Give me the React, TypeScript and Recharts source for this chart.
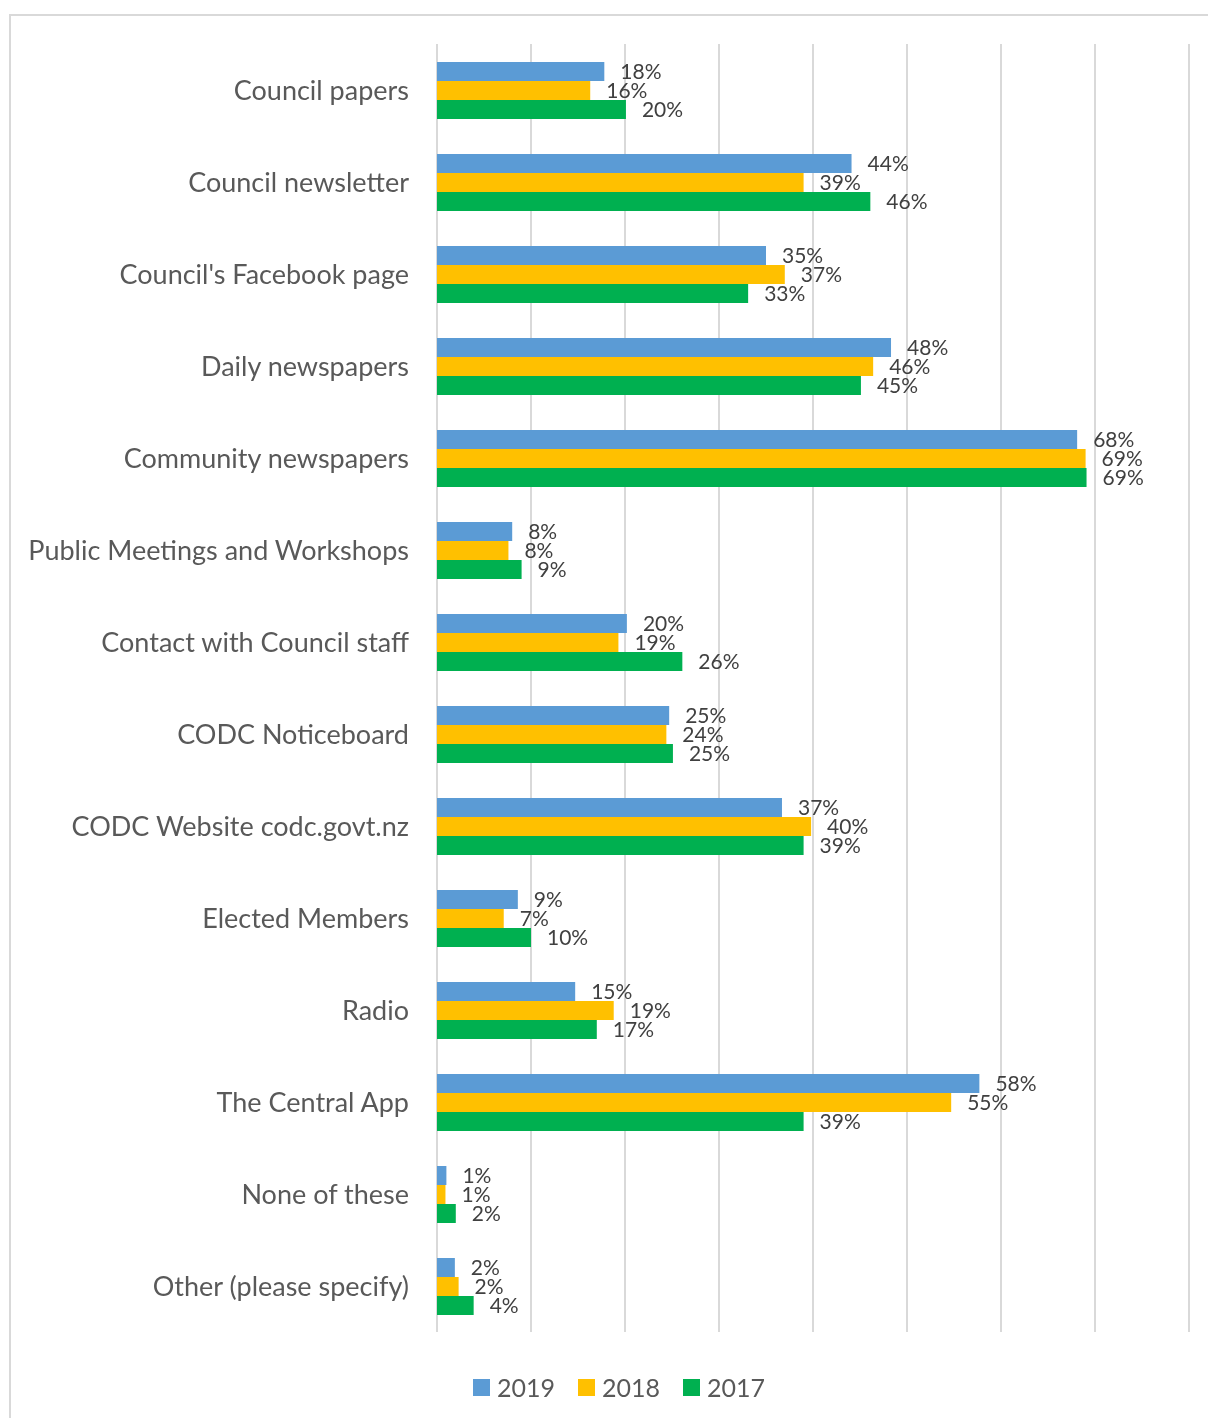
import React from 'react';
import { BarChart, Bar, XAxis, YAxis, CartesianGrid, Legend, LabelList } from 'recharts';

const categories = [
  'Council papers',
  'Council newsletter',
  "Council's Facebook page",
  'Daily newspapers',
  'Community newspapers',
  'Public Meetings and Workshops',
  'Contact with Council staff',
  'CODC Noticeboard',
  'CODC Website codc.govt.nz',
  'Elected Members',
  'Radio',
  'The Central App',
  'None of these',
  'Other (please specify)',
];

const values2019 = [17.8, 44.1, 35.0, 48.3, 68.1, 8.0, 20.2, 24.7, 36.7, 8.6, 14.7, 57.7, 1.0, 1.9];
const values2018 = [16.3, 39.0, 37.0, 46.4, 69.0, 7.6, 19.3, 24.4, 39.8, 7.1, 18.8, 54.7, 0.9, 2.3];
const values2017 = [20.1, 46.1, 33.1, 45.1, 69.1, 9.0, 26.1, 25.1, 39.0, 10.0, 17.0, 39.0, 2.0, 3.9];

const seriesNames = ['2019', '2018', '2017'];
const seriesColors = ['#5B9BD5', '#FFC000', '#00B050'];
const xTicks = [0, 10, 20, 30, 40, 50, 60, 70, 80];

const data = categories.map((name, i) => ({
  name,
  y2019: values2019[i],
  y2018: values2018[i],
  y2017: values2017[i],
}));

const seriesKeys = ['y2019', 'y2018', 'y2017'];

const FONT = 'Lato, "Open Sans", sans-serif';

const fmt = (v: any) => `${Math.round(Number(v))}%`;

const renderLegend = (props: any) => {
  const payload = props.payload || [];
  const ordered = seriesNames
    .map((n) => payload.find((p: any) => p.value === n))
    .filter(Boolean);
  return (
    <div style={{ paddingTop: 40, height: 30, display: 'flex', alignItems: 'center', paddingLeft: 465, fontFamily: FONT }}>
      {ordered.map((p: any, i: number) => (
        <div key={i} style={{ display: 'flex', alignItems: 'center', marginRight: i < ordered.length - 1 ? 23 : 0 }}>
          <div style={{ width: 17, height: 17, background: p.color, marginRight: 7 }} />
          <span style={{ fontSize: 25, color: '#595959', lineHeight: '30px' }}>{p.value}</span>
        </div>
      ))}
    </div>
  );
};

export default function App() {
  return (
    <div style={{ position: 'relative', width: 1200, height: 1402, fontFamily: FONT }}>
      <div
        style={{
          position: 'fixed',
          left: 9,
          top: 14,
          width: 1400,
          height: 1600,
          borderLeft: '2px solid #d9d9d9',
          borderTop: '2px solid #d9d9d9',
          pointerEvents: 'none',
        }}
      />
      <BarChart
        width={1200}
        height={1410}
        data={data}
        layout="vertical"
        margin={{ top: 36, right: 19, left: 0, bottom: 16 }}
        barGap={0}
        barSize={19}
      >
        <CartesianGrid horizontal={false} vertical={true} stroke="#d9d9d9" strokeWidth={2} />
        <XAxis type="number" domain={[0, 80]} ticks={xTicks} hide allowDataOverflow />
        <YAxis
          type="category"
          dataKey="name"
          width={429}
          axisLine={false}
          tickLine={false}
          tickSize={0}
          tickMargin={28}
          interval={0}
          tick={{ fill: '#595959', fontSize: 27, fontFamily: FONT }}
        />
        <Legend verticalAlign="bottom" align="left" content={renderLegend} />
        {seriesKeys.map((k, i) => (
          <Bar key={k} dataKey={k} name={seriesNames[i]} fill={seriesColors[i]} isAnimationActive={false}>
            <LabelList
              dataKey={k}
              position="right"
              offset={16}
              formatter={fmt}
              style={{ fill: '#404040', fontSize: 21, fontFamily: FONT }}
            />
          </Bar>
        ))}
      </BarChart>
    </div>
  );
}
